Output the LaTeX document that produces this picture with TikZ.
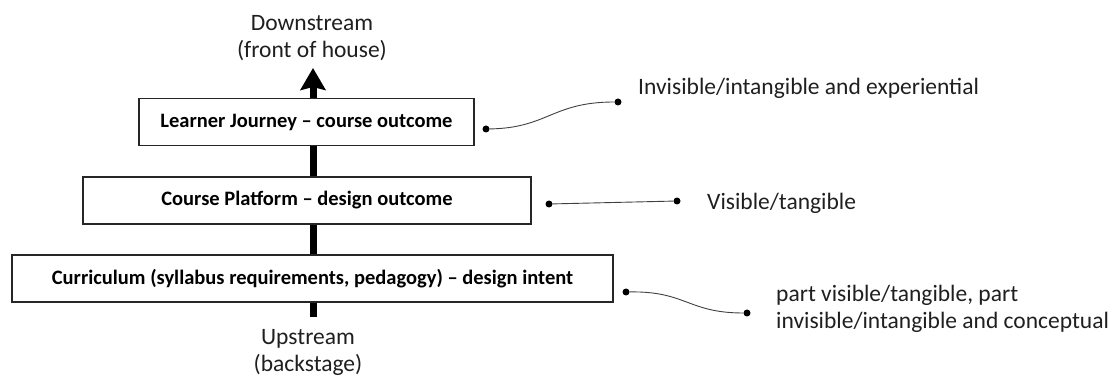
\documentclass[tikz,border=0pt]{standalone}
\usepackage{fontspec}
\setmainfont{Carlito}
\usetikzlibrary{arrows.meta}
\begin{document}
\begin{tikzpicture}[x=1pt,y=-1pt,
  layer/.style={draw=black!85, line width=1.4pt, fill=white, inner sep=0pt,
    minimum height=47pt, font=\fontsize{20.5}{24}\selectfont\bfseries},
  note/.style={font=\fontsize{23.5}{27}\selectfont, text=black!88, inner sep=0pt},
  pin/.style={circle, fill=black, inner sep=0pt, minimum size=7pt},
  link/.style={line width=0.9pt, draw=black!75},
  flow/.style={line width=7pt, -{Stealth[length=22pt,width=25pt,inset=3pt]}}]
\useasboundingbox (0,0) rectangle (1117,379);

% main flow from upstream to downstream
\coordinate (tail) at (313,317);
\coordinate (tip) at (313,68);
\draw[flow] (tail) -- (tip);

% the three layers
\node[layer, minimum width=335pt] (journey) at (306.5,122) {Learner Journey – course outcome};
\node[layer, minimum width=448pt] (platform) at (307,200.5) {Course Platform – design outcome};
\node[layer, minimum width=601pt] (curric) at (312.5,278.5) {Curriculum (syllabus requirements, pedagogy) – design intent};

% end labels
\node[note, align=center] (down) at (312,38) {Downstream\\(front of house)};
\node[note, align=center] (up) at (308,352) {Upstream\\(backstage)};

% side annotations
\node[pin] (p1a) at (486,129) {};
\node[pin] (p1b) at (618,102) {};
\draw[link] (p1a) .. controls (548,128) and (552,102) .. (p1b);
\node[note, anchor=west] (n1) at (638,88) {Invisible/intangible and experiential};

\node[pin] (p2a) at (549,204) {};
\node[pin] (p2b) at (677,201) {};
\draw[link] (p2a) -- (p2b);
\node[note, anchor=west] (n2) at (707,203) {Visible/tangible};

\node[pin] (p3a) at (626,292) {};
\node[pin] (p3b) at (747,313) {};
\draw[link] (p3a) .. controls (686,291) and (688,313) .. (p3b);
\node[note, anchor=west, align=left] (n3) at (776,309) {part visible/tangible, part\\invisible/intangible and conceptual};
\end{tikzpicture}
\end{document}
